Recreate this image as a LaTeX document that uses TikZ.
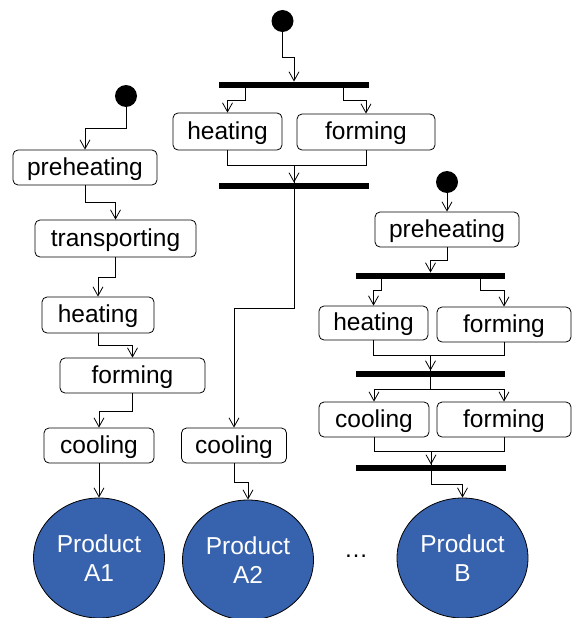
\documentclass[tikz,border=0pt]{standalone}
\usepackage{fontspec}
\setmainfont{Liberation Sans}
\usetikzlibrary{arrows.meta,shapes.geometric}
\definecolor{prodblue}{RGB}{55,98,174}
\tikzset{
  stepbox/.style={draw, rounded corners=5pt, line width=0.8pt, inner sep=0pt, text height=20pt, text depth=5pt, font=\fontsize{24.5}{28}\selectfont},
  forkbar/.style={fill=black, draw=none, inner sep=0pt, minimum height=6.5pt},
  startdot/.style={circle, fill=black, draw=none, inner sep=0pt, minimum size=22pt},
  product/.style={ellipse, draw=black, line width=0.8pt, fill=prodblue, text=white, inner sep=0pt,
    minimum width=131pt, minimum height=120pt, align=center, font=\fontsize{24.5}{28.5}\selectfont},
  arr/.style={-{Straight Barb[length=9pt,width=10pt]}, line width=0.8pt},
  ln/.style={line width=0.8pt}
}
\begin{document}
\begin{tikzpicture}[x=1pt,y=-1pt]
\useasboundingbox (0,0) rectangle (572,618);

% ---------- left column ----------
\node[startdot] (dotL) at (126,96) {};
\node[stepbox, minimum width=144pt, minimum height=35pt] (preL) at (85,167.5) {preheating};
\node[stepbox, minimum width=161pt, minimum height=37pt] (trL) at (115.5,238.5) {transporting};
\node[stepbox, minimum width=112pt, minimum height=36pt] (heatL) at (98,315) {heating};
\node[stepbox, minimum width=145pt, minimum height=35pt] (formL) at (132.5,375.5) {forming};
\node[stepbox, minimum width=110pt, minimum height=35pt] (coolL) at (99,445.5) {cooling};
\node[product] (prodA1) at (99,558) {Product\\A1};

\draw[arr] (dotL.south) -- (dotL.south |- 0,128) -| (preL.north);
\draw[arr] (preL.south) -- (preL.south |- 0,202) -| (trL.north);
\draw[arr] (trL.south) -- (trL.south |- 0,277) -| (heatL.north);
\draw[arr] (heatL.south) -- (heatL.south |- 0,345) -| (formL.north);
\draw[arr] (formL.south) -- (formL.south |- 0,411) -| (coolL.north);
\draw[arr] (coolL.south) -- (prodA1.north);

% ---------- middle column ----------
\node[startdot] (dotM) at (282.5,21) {};
\node[forkbar, minimum width=150pt] (barM1) at (294,85) {};
\node[stepbox, minimum width=109pt, minimum height=37pt] (heatM) at (227.5,131.5) {heating};
\node[stepbox, minimum width=138pt, minimum height=36pt] (formM) at (366,132) {forming};
\node[forkbar, minimum width=150pt] (barM2) at (294,186) {};
\node[stepbox, minimum width=105pt, minimum height=35pt] (coolM) at (234,445.5) {cooling};
\node[product] (prodA2) at (248,560) {Product\\A2};

\coordinate (mL) at (245,88);
\coordinate (mR) at (343,88);
\draw[arr] (dotM.south) -- (dotM.south |- 0,57) -| (barM1.north);
\draw[arr] (mL) -- (mL |- 0,100) -| (heatM.north);
\draw[arr] (mR) -- (mR |- 0,100) -| (formM.north);
\draw[arr] (heatM.south) -- (heatM.south |- 0,165) -| (barM2.north);
\draw[ln] (formM.south) -- (formM.south |- 0,165) -| (barM2.north);
\draw[arr] (barM2.south) -- (barM2.south |- 0,308) -| (coolM.north);
\draw[arr] (coolM.south) -- (coolM.south |- 0,482) -| (prodA2.north);

% ---------- right column ----------
\node[startdot] (dotR) at (447,182) {};
\node[stepbox, minimum width=144pt, minimum height=35pt] (preR) at (447,229.5) {preheating};
\node[forkbar, minimum width=149pt] (barR1) at (430.5,276) {};
\node[stepbox, minimum width=109pt, minimum height=34pt] (heatR) at (373.5,323) {heating};
\node[stepbox, minimum width=134pt, minimum height=35pt] (formR) at (504,324.5) {forming};
\node[forkbar, minimum width=149pt] (barR2) at (430.5,374) {};
\node[stepbox, minimum width=110pt, minimum height=35pt] (coolR) at (374,419.5) {cooling};
\node[stepbox, minimum width=134pt, minimum height=35pt] (form2R) at (504,419.5) {forming};
\node[forkbar, minimum width=150pt] (barR3) at (431,468) {};
\node[product] (prodB) at (462.5,558) {Product\\B};

\coordinate (rL) at (381,279);
\coordinate (rR) at (480,279);
\draw[arr] (dotR.south) -- (preR.north);
\draw[arr] (preR.south) -- (preR.south |- 0,260) -| (barR1.north);
\draw[arr] (rL) -- (rL |- 0,290) -| (heatR.north);
\draw[arr] (rR) -- (rR |- 0,290) -| (formR.north);
\draw[arr] (heatR.south) -- (heatR.south |- 0,355) -| (barR2.north);
\draw[ln] (formR.south) -- (formR.south |- 0,355) -| (barR2.north);
\draw[arr] (barR2.south) -- (barR2.south |- 0,389) -| (coolR.north);
\draw[arr] (barR2.south |- 0,389) -| (form2R.north);
\draw[arr] (coolR.south) -- (coolR.south |- 0,451) -| (barR3.north);
\draw[ln] (form2R.south) -- (form2R.south |- 0,451) -| (barR3.north);
\draw[arr] (barR3.south) -- (barR3.south |- 0,484) -| (prodB.north);

% ellipsis
\node[font=\fontsize{24}{28}\selectfont, inner sep=0pt] (dots) at (356,556) {…};
\end{tikzpicture}
\end{document}
